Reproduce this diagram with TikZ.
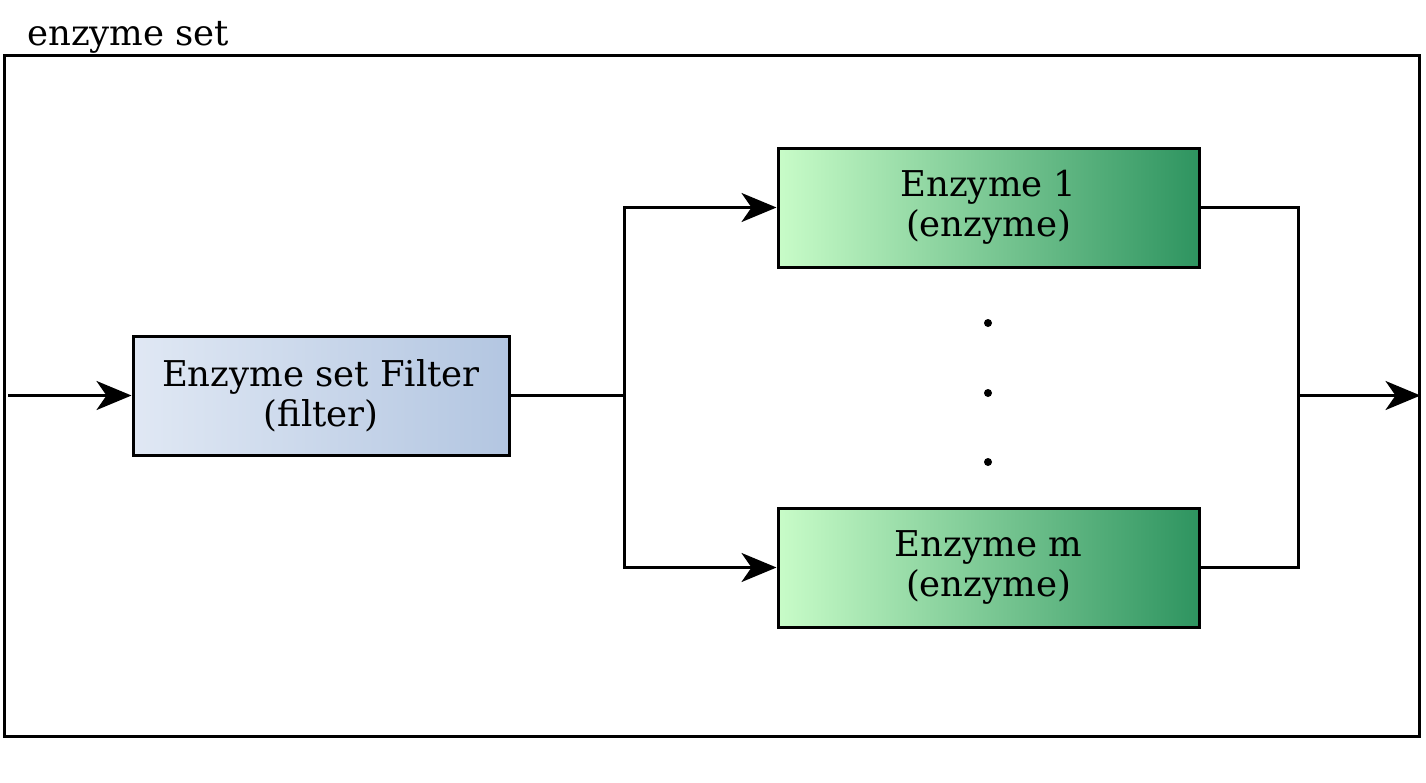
\documentclass[tikz,border=0pt]{standalone}
\usepackage{fontspec}
\setmainfont{DejaVu Serif}
\usetikzlibrary{arrows.meta,shadings}
\definecolor{filtL}{HTML}{E0E8F4}
\definecolor{filtR}{HTML}{B3C6E1}
\definecolor{enzL}{HTML}{C8FCC8}
\definecolor{enzR}{HTML}{2E9460}
\tikzset{
  x=1pt,y=-1pt,
  line/.style={line width=3pt,black},
  arr/.style={line,-{Stealth[length=35pt,width=29pt,inset=10pt]}},
  boxtext/.style={font=\fontsize{35.5}{40}\selectfont,align=center,text=black},
  filterbox/.style={draw,line width=3pt,left color=filtL,right color=filtR,
     minimum width=376pt,minimum height=119pt,boxtext,inner sep=0pt},
  enzbox/.style={draw,line width=3pt,left color=enzL,right color=enzR,
     minimum width=421pt,minimum height=119pt,boxtext,inner sep=0pt},
  vdot/.style={circle,fill=black,inner sep=0pt,minimum size=8pt}
}
\begin{document}
\begin{tikzpicture}
\useasboundingbox (0,0) rectangle (1426,782);
\node[draw,line width=3pt,minimum width=1415pt,minimum height=681pt,inner sep=0pt] (frame) at (711.5,395.5) {};
\node[anchor=base west,font=\fontsize{35.5}{40}\selectfont,inner sep=0pt] (lbl) at (27,45) {enzyme set};
\node[filterbox] (filt) at (321,395.5) {Enzyme set Filter\\(filter)};
\node[enzbox] (e1) at (988.5,207.5) {Enzyme 1\\(enzyme)};
\node[enzbox] (em) at (988.5,567.5) {Enzyme m\\(enzyme)};
\node[vdot] (d1) at (988,323) {};
\node[vdot] (d2) at (988,393) {};
\node[vdot] (d3) at (988,462) {};
\coordinate (in) at (8,395.5);
\coordinate (split) at (624,395.5);
\coordinate (join) at (1298,395.5);
\draw[arr] (in) -- (filt.west);
\draw[line] (filt.east) -- (split);
\draw[arr] (split) |- (e1.west);
\draw[arr] (split) |- (em.west);
\draw[line] (e1.east) -| (join);
\draw[line] (em.east) -| (join);
\draw[arr] (join) -- (frame.east);
\end{tikzpicture}
\end{document}
